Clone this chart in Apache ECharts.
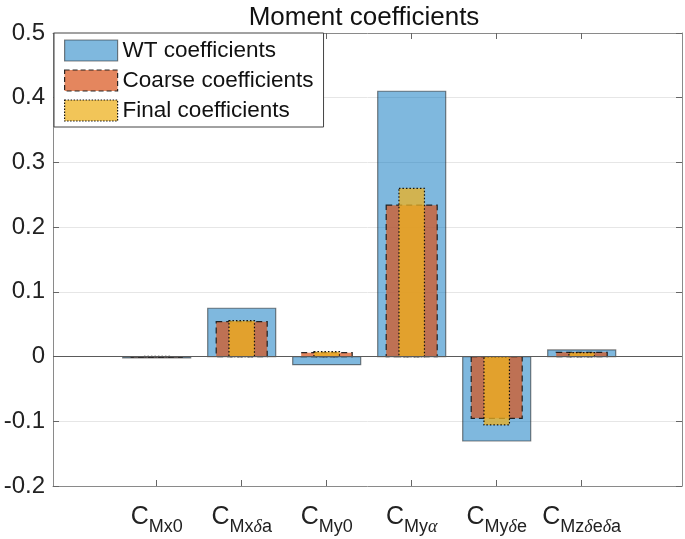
<!DOCTYPE html>
<html>
<head>
<meta charset="utf-8">
<script src="https://cdn.jsdelivr.net/npm/echarts@6/dist/echarts.min.js"></script>
<style>html,body{margin:0;padding:0;background:#fff;}#c{width:685px;height:539px;}</style>
</head>
<body>
<div id="c"></div>
<script>
var categories = ['{c|C}{s|Mx0}', '{c|C}{s|Mx}{g|δ}{s|a}', '{c|C}{s|My0}', '{c|C}{s|My}{g|α}', '{c|C}{s|My}{g|δ}{s|e}', '{c|C}{s|Mz}{g|δ}{s|e}{g|δ}{s|a}'];
var positions = [1, 2, 3, 4, 5, 6];
var wtValues = [-0.002, 0.0747, -0.0125, 0.410, -0.1305, 0.0102];
var coarseValues = [-0.001, 0.054, 0.006, 0.234, -0.0954, 0.0066];
var finalValues = [0.0005, 0.0555, 0.0075, 0.260, -0.1057, 0.006];
var yTicks = [-0.2, -0.1, 0, 0.1, 0.2, 0.3, 0.4, 0.5];

var FONT = "'Liberation Sans', Arial, Helvetica, sans-serif";
var chart = echarts.init(document.getElementById('c'));

function pairs(vals) { return vals.map(function (v, i) { return [positions[i], v]; }); }

function makeRender(width, fill, stroke, dash) {
  return function (params, api) {
    var x = api.value(0), y = api.value(1);
    var p0 = api.coord([x - width / 2, 0]);
    var p1 = api.coord([x + width / 2, y]);
    return {
      type: 'rect',
      shape: { x: Math.min(p0[0], p1[0]), y: Math.min(p0[1], p1[1]), width: Math.abs(p1[0] - p0[0]), height: Math.abs(p1[1] - p0[1]) },
      style: { fill: fill, stroke: stroke, lineWidth: 1.2, lineDash: dash }
    };
  };
}

var wtFill = 'rgba(0,114,189,0.5)', wtEdge = 'rgba(30,30,30,0.55)';
var coFill = 'rgba(217,83,25,0.7)', coEdge = 'rgba(20,20,20,0.9)';
var fiFill = 'rgba(237,177,32,0.75)', fiEdge = 'rgba(10,10,10,0.95)';

var xCommon = {
  type: 'value', min: -0.22, max: 7.18,
  axisLine: { show: true, onZero: false, lineStyle: { color: '#8a8a8a', width: 1 } },
  splitLine: { show: false }
};

var option = {
  backgroundColor: '#fff',
  animation: false,
  title: {
    text: 'Moment coefficients', left: 359, top: 0, textAlign: 'center',
    textStyle: { fontFamily: FONT, fontSize: 26, fontWeight: 'normal', color: '#111' }
  },
  grid: { left: 53, right: 3, top: 33, bottom: 53, outerBoundsMode: 'none', containLabel: false },
  legend: {
    orient: 'vertical', left: 54, top: 33,
    padding: [6, 10, 5, 10], itemWidth: 53, itemHeight: 21, itemGap: 7,
    borderColor: '#444', borderWidth: 1, backgroundColor: '#fff',
    textStyle: { fontFamily: FONT, fontSize: 22.5, color: '#111' },
    data: [
      { name: 'WT coefficients', icon: 'rect', itemStyle: { color: wtFill, borderColor: wtEdge, borderWidth: 1.2 } },
      { name: 'Coarse coefficients', icon: 'rect', itemStyle: { color: coFill, borderColor: coEdge, borderWidth: 1.2, borderType: [5, 3] } },
      { name: 'Final coefficients', icon: 'rect', itemStyle: { color: fiFill, borderColor: fiEdge, borderWidth: 1.2, borderType: [1.5, 1.5] } }
    ]
  },
  xAxis: [
    Object.assign({}, xCommon, {
      position: 'bottom',
      axisTick: { show: true, inside: true, length: 6, customValues: positions, lineStyle: { color: '#666' } },
      axisLabel: {
        show: true, customValues: positions, margin: 19,
        formatter: function (v) { return categories[Math.round(v) - 1] || ''; },
        rich: {
          c: { fontFamily: FONT, fontSize: 25, color: '#222', verticalAlign: 'top', lineHeight: 26 },
          s: { fontFamily: FONT, fontSize: 18, color: '#222', verticalAlign: 'top', lineHeight: 18, padding: [13, 0, 0, 0] },
          g: { fontFamily: "'Liberation Serif', 'DejaVu Serif', serif", fontStyle: 'italic', fontSize: 18, color: '#222', verticalAlign: 'top', lineHeight: 18, padding: [13, 0, 0, 0] }
        }
      }
    }),
    Object.assign({}, xCommon, {
      position: 'top',
      axisTick: { show: true, inside: true, length: 6, customValues: positions, lineStyle: { color: '#666' } },
      axisLabel: { show: false }
    })
  ],
  yAxis: [
    {
      type: 'value', min: -0.2, max: 0.5, interval: 0.1, position: 'left',
      axisLine: { show: true, onZero: false, lineStyle: { color: '#8a8a8a', width: 1 } },
      axisTick: { show: true, inside: true, length: 6, lineStyle: { color: '#666' } },
      axisLabel: {
        margin: 8, fontFamily: FONT, fontSize: 24, color: '#222',
        formatter: function (v) { var r = Math.round(v * 10) / 10; return r === 0 ? '0' : String(r); }
      },
      splitLine: { show: true, lineStyle: { color: '#e6e6e6', width: 1 } }
    },
    {
      type: 'value', min: -0.2, max: 0.5, interval: 0.1, position: 'right',
      axisLine: { show: true, onZero: false, lineStyle: { color: '#8a8a8a', width: 1 } },
      axisTick: { show: true, inside: true, length: 6, lineStyle: { color: '#666' } },
      axisLabel: { show: false },
      splitLine: { show: false }
    }
  ],
  series: [
    {
      name: 'WT coefficients', type: 'custom', xAxisIndex: 0, yAxisIndex: 0,
      itemStyle: { color: wtFill }, encode: { x: 0, y: 1 },
      renderItem: makeRender(0.8, wtFill, wtEdge, null),
      data: pairs(wtValues), z: 2
    },
    {
      name: 'Coarse coefficients', type: 'custom', xAxisIndex: 0, yAxisIndex: 0,
      itemStyle: { color: coFill }, encode: { x: 0, y: 1 },
      renderItem: makeRender(0.6, coFill, coEdge, [6, 4]),
      data: pairs(coarseValues), z: 3
    },
    {
      name: 'Final coefficients', type: 'custom', xAxisIndex: 0, yAxisIndex: 0,
      itemStyle: { color: fiFill }, encode: { x: 0, y: 1 },
      renderItem: makeRender(0.3, fiFill, fiEdge, [1.5, 2]),
      data: pairs(finalValues), z: 4,
      markLine: {
        silent: true, symbol: ['none', 'none'], label: { show: false },
        lineStyle: { color: '#5a5a5a', width: 1.2, type: 'solid' },
        data: [{ yAxis: 0 }], z: 5
      }
    }
  ]
};
chart.setOption(option);
</script>
</body>
</html>
